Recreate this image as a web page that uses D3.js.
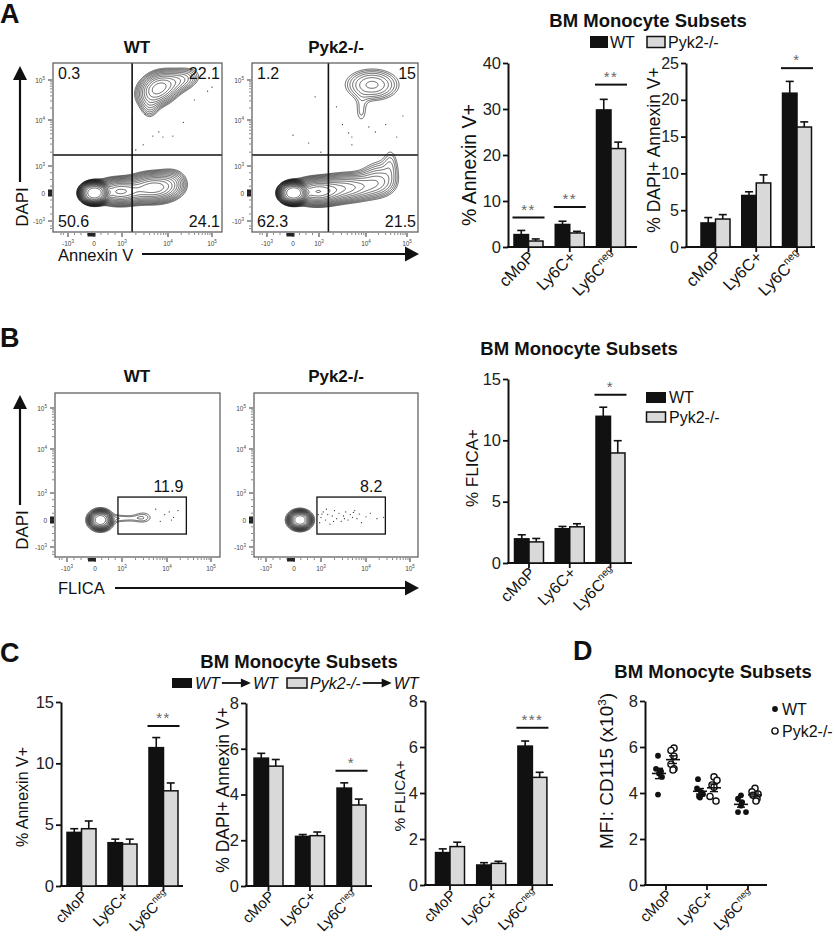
<!DOCTYPE html>
<html><head><meta charset="utf-8">
<script src="https://cdn.jsdelivr.net/npm/d3@7"></script>
<style>
body{margin:0;background:#fff;}
svg text{font-family:"Liberation Sans",Arial,Helvetica,sans-serif;fill:#111;}
</style></head><body>
<svg id="fig" width="835" height="945" xmlns="http://www.w3.org/2000/svg"></svg>
<script>
// ---------------- DATA ----------------
const categories = ["cMoP", "Ly6C+", "Ly6Cneg"];
const catLabels = [{t:"cMoP"}, {t:"Ly6C+"}, {t:"Ly6C", sup:"neg"}];
const groups = ["WT", "Pyk2-/-"];
const chimeraDonors = ["WT", "Pyk2-/-"];
const chimeraRecipients = ["WT", "WT"];
const subsetTitle = "BM Monocyte Subsets";

// Panel A flow: quadrant percentages [UL, UR, LL, LR]
const aQuadWT = [0.3, 22.1, 50.6, 24.1];
const aQuadPyk2 = [1.2, 15, 62.3, 21.5];
// Panel B flow: FLICA+ gate percentages
const bGateWT = 11.9;
const bGatePyk2 = 8.2;

// flow axis ticks (biexponential display units)
const flowTicks = [-1, 0, 1, 2, 3];
const flowTickLabels = [["-10","3"], ["0",""], ["10","3"], ["10","4"], ["10","5"]];

// Panel A bars
const aAnnexinWT = [2.7, 4.9, 29.8],   aAnnexinWTsem = [0.9, 0.7, 2.3];
const aAnnexinKO = [1.3, 3.05, 21.4],  aAnnexinKOsem = [0.45, 0.35, 1.4];
const aDapiWT = [3.27, 7.0, 20.9],     aDapiWTsem = [0.73, 0.5, 1.6];
const aDapiKO = [3.8, 8.7, 16.3],      aDapiKOsem = [0.6, 1.1, 0.7];
const aAnnexinSig = [{i:0, y:6.4, s:"**"}, {i:1, y:8.7, s:"**"}, {i:2, y:35.3, s:"**"}];
const aDapiSig = [{i:2, y:24.3, s:"*"}];

// Panel B bars
const bFlicaWT = [1.97, 2.79, 11.96], bFlicaWTsem = [0.33, 0.19, 0.74];
const bFlicaKO = [1.72, 2.95, 8.97],  bFlicaKOsem = [0.28, 0.25, 1.0];
const bFlicaSig = [{i:2, y:13.72, s:"*"}];

// Panel C bars (chimeras)
const cAnnexinWT = [4.37, 3.53, 11.28], cAnnexinWTsem = [0.3, 0.29, 0.82];
const cAnnexinKO = [4.67, 3.42, 7.76],  cAnnexinKOsem = [0.63, 0.4, 0.64];
const cDapiWT = [5.59, 2.17, 4.28],     cDapiWTsem = [0.21, 0.08, 0.23];
const cDapiKO = [5.24, 2.2, 3.54],      cDapiKOsem = [0.29, 0.16, 0.26];
const cFlicaWT = [1.41, 0.87, 6.04],    cFlicaWTsem = [0.16, 0.1, 0.22];
const cFlicaKO = [1.67, 0.94, 4.68],    cFlicaKOsem = [0.19, 0.09, 0.22];
const cAnnexinSig = [{i:2, y:13.05, s:"**"}];
const cDapiSig = [{i:2, y:5.04, s:"*"}];
const cFlicaSig = [{i:2, y:6.84, s:"***"}];

// Panel D: MFI CD115 (x10^3), individual mice
const dWT = [[5.62, 5.05, 4.95, 4.85, 4.7, 3.93], [4.6, 4.2, 4.05, 3.95, 3.85, 3.8], [3.9, 3.75, 3.6, 3.45, 3.17, 3.17]];
const dKO = [[5.95, 5.85, 5.6, 5.25, 5.05, 5.0], [4.7, 4.55, 4.35, 4.25, 3.85, 3.65], [4.2, 4.05, 3.95, 3.9, 3.75, 3.65]];
const dWTjit = [[-1, -3, 2, 0, 3, -1], [-2, -3, 1, 3, -1, 0], [0, -3, 1, 0, -3, 5]];
const dKOjit = [[1, -2, 1, -2, 1, 0], [0, 3, -2, 0, -4, 2], [0, -3, 3, -2, 2, 1]];

// ---------------- HELPERS ----------------
const svg = d3.select("#fig");
const BLACK = "#111", GRAY = "#d9d9d9";

function label(g, x, y, str, o = {}) {
  const t = g.append("text").attr("x", x).attr("y", y).text(str)
    .attr("font-size", o.size || 16)
    .attr("font-weight", o.bold ? "bold" : null)
    .attr("font-style", o.italic ? "italic" : null)
    .attr("text-anchor", o.anchor || "start");
  if (o.fill) t.style("fill", o.fill);
  if (o.rotate) t.attr("transform", `rotate(${o.rotate},${x},${y})`);
  return t;
}

function catText(g, x, y, c, size) {
  const t = g.append("text").attr("x", x).attr("y", y)
    .attr("font-size", size).attr("text-anchor", "end")
    .attr("transform", `rotate(-45,${x},${y})`);
  t.append("tspan").text(c.t);
  if (c.sup) t.append("tspan").text(c.sup).attr("font-size", size * 0.62).attr("dy", -size * 0.42);
  return t;
}

function styleYAxis(ya, size) {
  ya.select(".domain").attr("stroke", BLACK).attr("stroke-width", 2);
  ya.selectAll(".tick line").attr("stroke", BLACK).attr("stroke-width", 1.8);
  ya.selectAll(".tick text").attr("font-size", size).style("fill", "#222")
    .attr("font-family", '"Liberation Sans",Arial,sans-serif');
}

function barChart(cfg) {
  const g = svg.append("g");
  const y = d3.scaleLinear().domain([0, cfg.max]).range([cfg.yBottom, cfg.yTop]);
  const x = d3.scalePoint().domain(categories).range([cfg.x0, cfg.x0 + 2 * cfg.step]);
  const bw = cfg.bw || 14.5;
  const ya = g.append("g").attr("transform", `translate(${cfg.axisX},0)`)
    .call(d3.axisLeft(y).tickValues(cfg.ticks).tickSize(5).tickSizeOuter(0).tickPadding(2));
  styleYAxis(ya, cfg.tickSize || 16);
  g.append("line").attr("x1", cfg.axisX - 1).attr("x2", cfg.xEnd)
    .attr("y1", cfg.yBottom).attr("y2", cfg.yBottom).attr("stroke", BLACK).attr("stroke-width", 2);
  categories.forEach((c, i) => {
    g.append("line").attr("x1", x(c)).attr("x2", x(c)).attr("y1", cfg.yBottom).attr("y2", cfg.yBottom + 5)
      .attr("stroke", BLACK).attr("stroke-width", 1.8);
    catText(g, x(c) + 7, cfg.yBottom + 11, catLabels[i], cfg.catSize || 15);
  });
  const series = [
    {v: cfg.wt, e: cfg.wtSem, fill: BLACK, off: -bw},
    {v: cfg.ko, e: cfg.koSem, fill: GRAY, off: 0}
  ];
  series.forEach(s => {
    categories.forEach((c, i) => {
      const cx = x(c) + s.off + bw / 2;
      g.append("line").attr("x1", cx).attr("x2", cx).attr("y1", y(s.v[i])).attr("y2", y(s.v[i] + s.e[i]))
        .attr("stroke", BLACK).attr("stroke-width", 1.6);
      g.append("line").attr("x1", cx - 4).attr("x2", cx + 4).attr("y1", y(s.v[i] + s.e[i])).attr("y2", y(s.v[i] + s.e[i]))
        .attr("stroke", BLACK).attr("stroke-width", 1.6);
      g.append("rect").attr("x", x(c) + s.off).attr("y", y(s.v[i]))
        .attr("width", bw).attr("height", y(0) - y(s.v[i]))
        .attr("fill", s.fill).attr("stroke", BLACK).attr("stroke-width", 1.5);
    });
  });
  (cfg.sig || []).forEach(d => {
    const cx = x(categories[d.i]);
    g.append("line").attr("x1", cx - 16).attr("x2", cx + 16).attr("y1", y(d.y)).attr("y2", y(d.y))
      .attr("stroke", BLACK).attr("stroke-width", 2);
    label(g, cx, y(d.y) - 3, d.s, {size: 15, anchor: "middle", fill: "#666"}).attr("letter-spacing", 1.5);
  });
  label(g, cfg.ylabelX, cfg.ylabelY || (cfg.yBottom + cfg.yTop) / 2, cfg.ylabel,
    {size: cfg.ylabelSize || 17, anchor: "middle", rotate: -90});
  return {g, x, y};
}

// -------- flow cytometry plots --------
function flowPlot(o) {
  const g = svg.append("g").attr("transform", `translate(${o.x},${o.y})`);
  const xs = d3.scaleLinear().domain(flowTicks).range(o.xPos);
  const ys = d3.scaleLinear().domain(flowTicks).range(o.yPos);
  const nx = o.w, ny = o.h;
  const vals = new Float64Array(nx * ny);
  for (const b of o.blobs) {
    const cx = xs(b.cx), cy = ys(b.cy), c = Math.cos(b.rot || 0), s = Math.sin(b.rot || 0), p = b.p || 1;
    for (let j = 0; j < ny; j++) for (let i = 0; i < nx; i++) {
      const dx = i + 0.5 - cx, dy = j + 0.5 - cy;
      const u = (c * dx + s * dy) / b.sx, v = (-s * dx + c * dy) / b.sy;
      vals[j * nx + i] += b.w * Math.exp(-0.5 * Math.pow(u * u + v * v, p));
    }
  }
  const thr = d3.range(o.levels).map(k => o.base * Math.pow(o.ratio, k));
  const cs = d3.contours().size([nx, ny]).thresholds(thr)(vals);
  const id = "clip" + Math.round(o.x) + "_" + Math.round(o.y);
  g.append("clipPath").attr("id", id).append("rect").attr("width", nx).attr("height", ny);
  const cg = g.append("g").attr("clip-path", `url(#${id})`);
  cg.selectAll("path").data(cs).join("path").attr("d", d3.geoPath())
    .attr("fill", "none").attr("stroke", "#111").attr("stroke-width", 0.65);
  cg.selectAll("circle").data(o.dots).join("circle")
    .attr("cx", d => xs(d[0])).attr("cy", d => ys(d[1])).attr("r", 0.6).attr("fill", "#222");
  if (o.quad) {
    g.append("line").attr("x1", xs(o.quad[0])).attr("x2", xs(o.quad[0])).attr("y1", 0).attr("y2", ny)
      .attr("stroke", BLACK).attr("stroke-width", 1.6);
    g.append("line").attr("x1", 0).attr("x2", nx).attr("y1", ys(o.quad[1])).attr("y2", ys(o.quad[1]))
      .attr("stroke", BLACK).attr("stroke-width", 1.6);
    const q = o.quadVals;
    label(g, 5, 16, q[0], {size: 16});
    label(g, nx - 2, 16, q[1], {size: 16, anchor: "end"});
    label(g, 5, ny - 5, q[2], {size: 16});
    label(g, nx - 2, ny - 5, q[3], {size: 16, anchor: "end"});
  }
  if (o.gate) {
    const [x0, x1, y0, y1] = o.gate;
    g.append("rect").attr("x", xs(x0)).attr("y", ys(y1)).attr("width", xs(x1) - xs(x0)).attr("height", ys(y0) - ys(y1))
      .attr("fill", "none").attr("stroke", BLACK).attr("stroke-width", 1.3);
    label(g, xs(x1) - 3, ys(y1) - 5, o.gateVal, {size: 16, anchor: "end"});
  }
  g.append("rect").attr("width", nx).attr("height", ny).attr("fill", "none").attr("stroke", "#555").attr("stroke-width", 1.2);
  g.append("rect").attr("x", -5).attr("y", ys(0) - 3.5).attr("width", 4).attr("height", 7).attr("fill", "#222");
  g.append("rect").attr("x", xs(-0.25)).attr("y", ny + 1).attr("width", 8).attr("height", 3.5).attr("fill", "#222");
  const minor = [];
  [-0.75, -0.5, -0.25, 0.25, 0.5, 0.75].forEach(t => minor.push(t));
  [1, 2].forEach(k => d3.range(2, 10).forEach(m => minor.push(k + Math.log10(m))));
  [0.6, 0.9].forEach(f => minor.push(-1 - f * 0.3));
  flowTicks.forEach((t, i) => {
    g.append("line").attr("x1", -5).attr("x2", -1).attr("y1", ys(t)).attr("y2", ys(t)).attr("stroke", "#333").attr("stroke-width", 1);
    g.append("line").attr("x1", xs(t)).attr("x2", xs(t)).attr("y1", ny + 1).attr("y2", ny + 5).attr("stroke", "#333").attr("stroke-width", 1);
    const tl = flowTickLabels[i];
    const ty = g.append("text").attr("x", -8).attr("y", ys(t) + 2.5).attr("font-size", 6.5).attr("text-anchor", "end").style("fill", "#444");
    ty.append("tspan").text(tl[0]);
    if (tl[1]) ty.append("tspan").text(tl[1]).attr("font-size", 4.5).attr("dy", -3);
    const tx = g.append("text").attr("x", xs(t)).attr("y", ny + 14).attr("font-size", 6.5).attr("text-anchor", "middle").style("fill", "#444");
    tx.append("tspan").text(tl[0]);
    if (tl[1]) tx.append("tspan").text(tl[1]).attr("font-size", 4.5).attr("dy", -3);
  });
  minor.forEach(t => {
    if (ys(t) > 0 && ys(t) < ny) g.append("line").attr("x1", -3).attr("x2", -1).attr("y1", ys(t)).attr("y2", ys(t)).attr("stroke", "#555").attr("stroke-width", 0.7);
    if (xs(t) > 0 && xs(t) < nx) g.append("line").attr("x1", xs(t)).attr("x2", xs(t)).attr("y1", ny + 1).attr("y2", ny + 3).attr("stroke", "#555").attr("stroke-width", 0.7);
  });
  return g;
}

function arrowV(x, yTop, yBottom) {
  svg.append("line").attr("x1", x).attr("x2", x).attr("y1", yTop + 10).attr("y2", yBottom).attr("stroke", BLACK).attr("stroke-width", 2.2);
  svg.append("path").attr("d", `M${x},${yTop} L${x - 7},${yTop + 14} L${x + 7},${yTop + 14} Z`).attr("fill", BLACK);
}
function arrowH(y, xLeft, xRight) {
  svg.append("line").attr("x1", xLeft).attr("x2", xRight - 10).attr("y1", y).attr("y2", y).attr("stroke", BLACK).attr("stroke-width", 2.2);
  svg.append("path").attr("d", `M${xRight},${y} L${xRight - 14},${y - 7.5} L${xRight - 14},${y + 7.5} Z`).attr("fill", BLACK);
}

// ================= PANEL A =================
label(svg, 0, 23, "A", {size: 27, bold: true});
label(svg, 137, 53, groups[0], {size: 17, bold: true, anchor: "middle"});
label(svg, 336, 53, groups[1], {size: 17, bold: true, anchor: "middle"});
const flowXA = [15, 41, 69, 115, 159], flowYA = [158, 130, 103, 57, 17];
flowPlot({x: 53, y: 63, w: 169, h: 169, xPos: flowXA, yPos: flowYA,
  blobs: [
    {cx: 0, cy: 0, sx: 9, sy: 7, w: 1.0, p: 1.6},
    {cx: 0.9, cy: 0.05, sx: 14, sy: 7, w: 0.22},
    {cx: 1.7, cy: 0.2, sx: 14, sy: 8, w: 0.2},
    {cx: 2.1, cy: 0.45, sx: 9, sy: 8, w: 0.04},
    {cx: 1.78, cy: 2.78, sx: 12, sy: 9, w: 0.16, rot: -0.5},
    {cx: 2.3, cy: 3.0, sx: 12, sy: 7, w: 0.06, rot: -0.3},
    {cx: 1.6, cy: 2.3, sx: 6, sy: 8, w: 0.03}
  ],
  levels: 20, base: 0.02, ratio: 1.22,
  dots: [[1.46,1.46],[1.67,1.65],[1.89,1.63],[2.11,1.65],[1.8,1.74],[1.22,2.05],[2.9,2.72],[3.0,2.82],[1.3,1.35],[2.35,1.95],[1.5,2.15],[2.6,2.5]],
  quad: [1.22, 1.24], quadVals: aQuadWT});
flowPlot({x: 252, y: 63, w: 166, h: 169, xPos: [15, 41, 67, 114, 155], yPos: flowYA,
  blobs: [
    {cx: 0, cy: 0, sx: 9, sy: 7, w: 1.0, p: 1.6},
    {cx: 0.9, cy: 0.05, sx: 14, sy: 7, w: 0.25},
    {cx: 1.6, cy: 0.2, sx: 16, sy: 8, w: 0.12},
    {cx: 2.3, cy: 0.35, sx: 12, sy: 9, w: 0.05},
    {cx: 2.35, cy: 0.8, sx: 14, sy: 11, w: 0.025, rot: -0.3},
    {cx: 2.6, cy: 1.1, sx: 5, sy: 12, w: 0.02},
    {cx: 2.15, cy: 2.88, sx: 17, sy: 10, w: 0.07},
    {cx: 1.9, cy: 2.2, sx: 5, sy: 10, w: 0.025}
  ],
  levels: 20, base: 0.02, ratio: 1.22,
  dots: [[1.37,2.33],[1.63,1.72],[2.07,1.85],[2.23,1.74],[1.7,1.63],[2.75,1.63],[1.7,1.46],[0.85,2.58],[0.6,1.5],[0,1.67],[1.04,1.3],[2.48,1.9],[1.5,1.9],[2.9,2.1]],
  quad: [1.2, 1.24], quadVals: aQuadPyk2});
arrowV(20, 66, 182);
label(svg, 28, 207, "DAPI", {size: 17, anchor: "middle", rotate: -90});
label(svg, 58, 261, "Annexin V", {size: 16.5});
arrowH(254, 142, 419);

label(svg, 648, 27, subsetTitle, {size: 18.5, bold: true, anchor: "middle"});
svg.append("rect").attr("x", 590).attr("y", 36).attr("width", 18).attr("height", 12).attr("fill", BLACK);
label(svg, 610, 48, groups[0], {size: 16});
svg.append("rect").attr("x", 647).attr("y", 36.5).attr("width", 18).attr("height", 11).attr("fill", GRAY).attr("stroke", BLACK).attr("stroke-width", 1.5);
label(svg, 668, 48, groups[1], {size: 16});

barChart({axisX: 508, x0: 528.5, step: 41.25, xEnd: 637, yBottom: 247, yTop: 63, max: 40, ticks: [0,10,20,30,40],
  wt: aAnnexinWT, wtSem: aAnnexinWTsem, ko: aAnnexinKO, koSem: aAnnexinKOsem, sig: aAnnexinSig,
  ylabel: "% Annexin V+", ylabelX: 476, ylabelY: 165, ylabelSize: 19.5, tickSize: 16.5, catSize: 16.5});
barChart({axisX: 686, x0: 715.5, step: 40.75, xEnd: 815, yBottom: 247, yTop: 63, max: 25, ticks: [0,5,10,15,20,25],
  wt: aDapiWT, wtSem: aDapiWTsem, ko: aDapiKO, koSem: aDapiKOsem, sig: aDapiSig,
  ylabel: "% DAPI+ Annexin V+", ylabelX: 660, ylabelY: 150, ylabelSize: 17.5, tickSize: 16, catSize: 16.5});

// ================= PANEL B =================
label(svg, 0, 347, "B", {size: 27, bold: true});
label(svg, 137, 382, groups[0], {size: 17, bold: true, anchor: "middle"});
label(svg, 336, 382, groups[1], {size: 17, bold: true, anchor: "middle"});
const flowXB = [12, 40, 67, 112, 156], flowYB = [154, 127, 100, 56, 15];
flowPlot({x: 55, y: 393, w: 165, h: 164, xPos: flowXB, yPos: flowYB,
  blobs: [
    {cx: 0.2, cy: 0.0, sx: 6.5, sy: 5.5, w: 1.0, p: 1.5},
    {cx: 0.2, cy: 0.0, sx: 10, sy: 8.5, w: 0.05},
    {cx: 1.05, cy: 0.06, sx: 11, sy: 2.6, w: 0.03},
    {cx: 1.47, cy: 0.1, sx: 7, sy: 4.5, w: 0.03}
  ],
  levels: 14, base: 0.02, ratio: 1.33,
  dots: [[1.95,0.2],[2.05,0.3],[2.15,0.1],[2.25,0.35],[1.85,-0.05],[2.1,0.0],[1.75,0.4]],
  gate: [0.85, 2.44, -0.52, 0.85], gateVal: bGateWT});
flowPlot({x: 254, y: 393, w: 164, h: 164, xPos: flowXB, yPos: flowYB,
  blobs: [
    {cx: 0.22, cy: 0.0, sx: 6.5, sy: 5.3, w: 1.0, p: 1.5},
    {cx: 0.22, cy: 0.0, sx: 10, sy: 8, w: 0.05}
  ],
  levels: 14, base: 0.02, ratio: 1.33,
  dots: [[0.9,0.2],[0.95,-0.1],[1.0,0.1],[1.05,0.3],[1.1,0.0],[1.15,0.2],[1.2,-0.15],[1.25,0.15],[1.3,0.35],[1.35,0.05],
         [1.4,0.25],[1.45,-0.05],[1.5,0.15],[1.55,0.3],[1.6,0.0],[1.65,0.2],[1.7,0.1],[1.75,0.35],[1.8,0.05],[1.85,0.22],
         [1.9,-0.1],[2.0,0.12],[2.1,0.25],[2.25,0.05],[2.4,0.1],[1.02,0.22],[1.28,-0.05],[1.52,0.05],[1.72,0.28],[1.12,0.4]],
  gate: [0.85, 2.44, -0.52, 0.85], gateVal: bGatePyk2});
arrowV(20, 395, 505);
label(svg, 28, 530, "DAPI", {size: 17, anchor: "middle", rotate: -90});
label(svg, 58, 594, "FLICA", {size: 16.5});
arrowH(588, 115, 419);

label(svg, 579, 355, subsetTitle, {size: 18.5, bold: true, anchor: "middle"});
svg.append("rect").attr("x", 646).attr("y", 392).attr("width", 20).attr("height", 11).attr("fill", BLACK);
label(svg, 669, 403, groups[0], {size: 16});
svg.append("rect").attr("x", 646.5).attr("y", 412).attr("width", 19).attr("height", 10).attr("fill", GRAY).attr("stroke", BLACK).attr("stroke-width", 1.5);
label(svg, 669, 423, groups[1], {size: 16});
barChart({axisX: 508, x0: 529, step: 40.75, xEnd: 632, yBottom: 563, yTop: 379, max: 15, ticks: [0,5,10,15],
  wt: bFlicaWT, wtSem: bFlicaWTsem, ko: bFlicaKO, koSem: bFlicaKOsem, sig: bFlicaSig,
  ylabel: "% FLICA+", ylabelX: 478, ylabelY: 468, ylabelSize: 17, tickSize: 16.5, catSize: 16});

// ================= PANEL C =================
label(svg, 0, 662, "C", {size: 27, bold: true});
label(svg, 299, 668, subsetTitle, {size: 18.5, bold: true, anchor: "middle"});
{
  const legX = [172, 287], fills = [BLACK, GRAY];
  chimeraDonors.forEach((d, i) => {
    const x0 = legX[i];
    const r = svg.append("rect").attr("x", x0).attr("y", 678).attr("width", 20).attr("height", 10).attr("fill", fills[i]);
    if (i === 1) r.attr("stroke", BLACK).attr("stroke-width", 1.5);
    const t1 = label(svg, x0 + 23, 689, d, {size: 16, italic: true});
    const w1 = t1.node().getComputedTextLength();
    const ax0 = x0 + 23 + w1 + 2, ax1 = ax0 + 29;
    svg.append("line").attr("x1", ax0).attr("x2", ax1 - 8).attr("y1", 683).attr("y2", 683).attr("stroke", BLACK).attr("stroke-width", 1.8);
    svg.append("path").attr("d", `M${ax1},683 L${ax1 - 10},678.5 L${ax1 - 10},687.5 Z`).attr("fill", BLACK);
    label(svg, ax1 + 2, 689, chimeraRecipients[i], {size: 16, italic: true});
  });
}
barChart({axisX: 61, x0: 81.5, step: 41, xEnd: 183, yBottom: 886, yTop: 702, max: 15, ticks: [0,5,10,15],
  wt: cAnnexinWT, wtSem: cAnnexinWTsem, ko: cAnnexinKO, koSem: cAnnexinKOsem, sig: cAnnexinSig,
  ylabel: "% Annexin V+", ylabelX: 28, ylabelY: 797, ylabelSize: 16, tickSize: 16.5, catSize: 15});
barChart({axisX: 246, x0: 268.5, step: 41.5, xEnd: 372, yBottom: 886, yTop: 703, max: 8, ticks: [0,2,4,6,8],
  wt: cDapiWT, wtSem: cDapiWTsem, ko: cDapiKO, koSem: cDapiKOsem, sig: cDapiSig,
  ylabel: "% DAPI+ Annexin V+", ylabelX: 229, ylabelY: 790, ylabelSize: 17.5, tickSize: 16.5, catSize: 15});
barChart({axisX: 425, x0: 450, step: 41.2, xEnd: 553, yBottom: 885, yTop: 701, max: 8, ticks: [0,2,4,6,8],
  wt: cFlicaWT, wtSem: cFlicaWTsem, ko: cFlicaKO, koSem: cFlicaKOsem, sig: cFlicaSig,
  ylabel: "% FLICA+", ylabelX: 405, ylabelY: 796, ylabelSize: 15.5, tickSize: 16.5, catSize: 15});

// ================= PANEL D =================
label(svg, 573, 660, "D", {size: 27, bold: true});
label(svg, 713, 678, subsetTitle, {size: 18.5, bold: true, anchor: "middle"});
{
  const g = svg.append("g");
  const y = d3.scaleLinear().domain([0, 8]).range([885, 701]);
  const x = d3.scalePoint().domain(categories).range([666, 748]);
  const ya = g.append("g").attr("transform", "translate(645,0)")
    .call(d3.axisLeft(y).tickValues([0,2,4,6,8]).tickSize(5).tickSizeOuter(0).tickPadding(2));
  styleYAxis(ya, 16.5);
  g.append("line").attr("x1", 644).attr("x2", 767).attr("y1", 885).attr("y2", 885).attr("stroke", BLACK).attr("stroke-width", 2);
  categories.forEach((c, i) => {
    g.append("line").attr("x1", x(c)).attr("x2", x(c)).attr("y1", 885).attr("y2", 890).attr("stroke", BLACK).attr("stroke-width", 1.8);
    catText(g, x(c) + 7, 896, catLabels[i], 15);
  });
  const sets = [{vals: dWT, jit: dWTjit, off: -7, open: false}, {vals: dKO, jit: dKOjit, off: 7, open: true}];
  sets.forEach(s => {
    categories.forEach((c, i) => {
      const cx = x(c) + s.off;
      s.vals[i].forEach((v, k) => {
        g.append("circle").attr("cx", cx + s.jit[i][k]).attr("cy", y(v)).attr("r", s.open ? 3.1 : 2.9)
          .attr("fill", s.open ? "#fff" : BLACK).attr("stroke", BLACK).attr("stroke-width", s.open ? 1.4 : 0);
      });
      const m = d3.mean(s.vals[i]);
      const sem = d3.deviation(s.vals[i]) / Math.sqrt(s.vals[i].length);
      g.append("line").attr("x1", cx - 7).attr("x2", cx + 7).attr("y1", y(m)).attr("y2", y(m)).attr("stroke", BLACK).attr("stroke-width", 1.6);
      g.append("line").attr("x1", cx).attr("x2", cx).attr("y1", y(m - sem)).attr("y2", y(m + sem)).attr("stroke", BLACK).attr("stroke-width", 1.4);
      [m - sem, m + sem].forEach(v => g.append("line").attr("x1", cx - 4).attr("x2", cx + 4).attr("y1", y(v)).attr("y2", y(v)).attr("stroke", BLACK).attr("stroke-width", 1.4));
    });
  });
  g.append("circle").attr("cx", 775).attr("cy", 709).attr("r", 2.9).attr("fill", BLACK);
  label(g, 782, 715, groups[0], {size: 16});
  g.append("circle").attr("cx", 775).attr("cy", 731).attr("r", 3.1).attr("fill", "#fff").attr("stroke", BLACK).attr("stroke-width", 1.4);
  label(g, 782, 737, groups[1], {size: 16});
  const t = g.append("text").attr("x", 613).attr("y", 771).attr("font-size", 19).attr("text-anchor", "middle")
    .attr("transform", "rotate(-90,613,771)");
  t.append("tspan").text("MFI: CD115 (x10");
  t.append("tspan").text("3").attr("font-size", 11.5).attr("dy", -7.5);
  t.append("tspan").text(")").attr("dy", 7.5);
}
</script>
</body></html>
